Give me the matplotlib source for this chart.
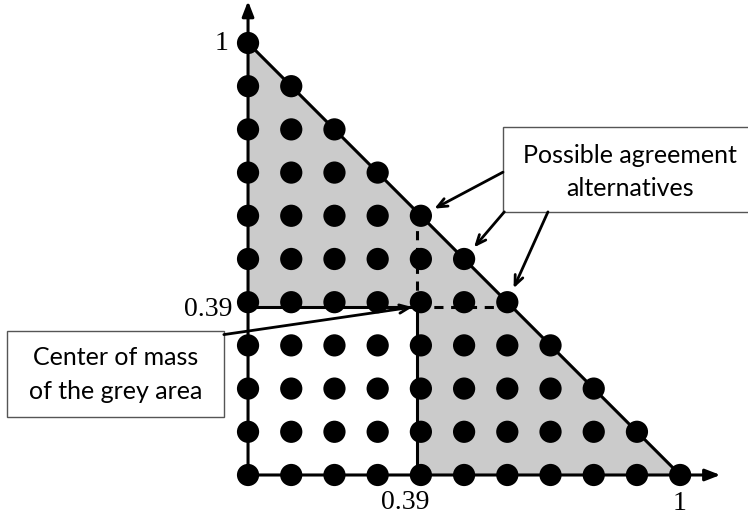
import matplotlib.pyplot as plt
from matplotlib.patches import Polygon, Rectangle

# niveles de la malla (paso 0.1) y valores del ejemplo
niveles = [0.0, 0.1, 0.2, 0.3, 0.4, 0.5, 0.6, 0.7, 0.8, 0.9, 1.0]
centro = 0.39
alternativas = [(0.4, 0.6), (0.5, 0.5), (0.6, 0.4)]

etiquetas_x = ["0.39", "1"]
etiquetas_y = ["0.39", "1"]

texto_alt = "Possible agreement\nalternatives"
texto_cm = "Center of mass\nof the grey area"

gris = "#cbcbcb"
lw = 2.2

fig = plt.figure(figsize=(7.48, 5.21), dpi=100)
ax = fig.add_axes([0, 0, 1, 1])
ax.set_xlim(-0.574, 1.157)
ax.set_ylim(-0.1065, 1.0995)
ax.axis("off")

# zonas grises
ax.add_patch(Polygon([(0, centro), (0, 1), (1 - centro, centro)], closed=True,
                     facecolor=gris, edgecolor="none", zorder=1))
ax.add_patch(Polygon([(centro, 0), (1, 0), (centro, 1 - centro)], closed=True,
                     facecolor=gris, edgecolor="none", zorder=1))

# bordes
ax.plot([0, 1], [1, 0], color="black", lw=lw, zorder=2)
ax.plot([0, centro], [centro, centro], color="black", lw=lw, zorder=2)
ax.plot([centro, centro], [0, centro], color="black", lw=lw, zorder=2)
ax.plot([centro, centro], [centro, 1 - centro], color="black", lw=lw,
        ls=(0, (3, 2.5)), zorder=2)
ax.plot([centro, 1 - centro], [centro, centro], color="black", lw=lw,
        ls=(0, (3, 2.5)), zorder=2)

# ejes con flecha
ax.annotate("", xy=(1.093, 0), xytext=(0, 0),
            arrowprops=dict(arrowstyle="-|>,head_length=0.9,head_width=0.35",
                            color="black", lw=lw, shrinkA=0, shrinkB=0), zorder=2)
ax.annotate("", xy=(0, 1.097), xytext=(0, 0),
            arrowprops=dict(arrowstyle="-|>,head_length=0.9,head_width=0.35",
                            color="black", lw=lw, shrinkA=0, shrinkB=0), zorder=2)

# puntos de la malla con x + y <= 1
px, py = [], []
for i, x in enumerate(niveles):
    for j, y in enumerate(niveles):
        if i + j <= len(niveles) - 1:
            px.append(x)
            py.append(y)
ax.scatter(px, py, s=16 ** 2, color="black", edgecolors="none", zorder=3)

# etiquetas numericas
serif = dict(family="Liberation Serif", fontsize=20, color="black")
ax.text(0.363, -0.063, etiquetas_x[0], ha="center", va="center", **serif)
ax.text(0.998, -0.065, etiquetas_x[1], ha="center", va="center", **serif)
ax.text(-0.035, 0.384, etiquetas_y[0], ha="right", va="center", **serif)
ax.text(-0.046, 0.998, etiquetas_y[1], ha="right", va="center", **serif)

# cuadros de texto
ax.add_patch(Rectangle((0.590, 0.609), 0.6, 0.197, facecolor="white",
                       edgecolor="#555555", lw=1.0, zorder=4))
ax.text(0.884, 0.701, texto_alt, ha="center", va="center", fontsize=18,
        family="Lato", linespacing=1.55, zorder=5)
ax.add_patch(Rectangle((-0.558, 0.134), 0.502, 0.199, facecolor="white",
                       edgecolor="#555555", lw=1.0, zorder=4))
ax.text(-0.307, 0.232, texto_cm, ha="center", va="center", fontsize=18,
        family="Lato", linespacing=1.6, zorder=5)

# flechas
flecha = dict(arrowstyle="->,head_length=0.7,head_width=0.3", color="black",
              lw=2, shrinkA=0)
inicios = [(0.590, 0.701), (0.593, 0.609), (0.694, 0.609)]
for (xs, ys), (xa, ya) in zip(inicios, alternativas):
    ax.annotate("", xy=(xa, ya), xytext=(xs, ys),
                arrowprops=dict(flecha, shrinkB=11), zorder=4)
ax.annotate("", xy=(centro, centro), xytext=(-0.056, 0.325),
            arrowprops=dict(flecha, shrinkB=3), zorder=4)

fig.savefig("out.png", dpi=100)
